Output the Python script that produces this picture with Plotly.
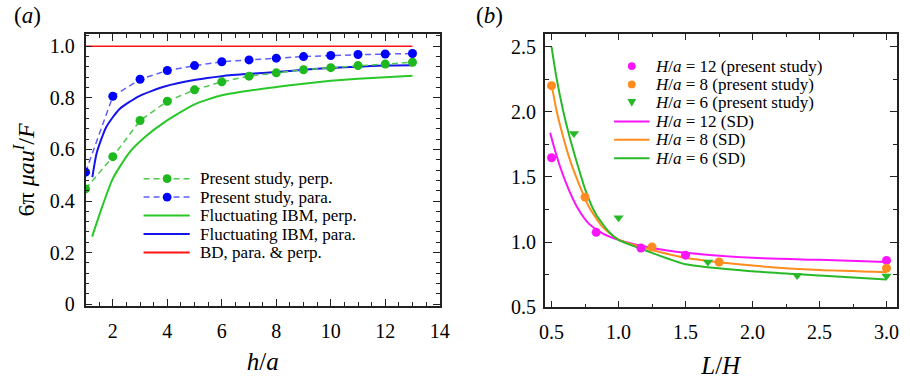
import plotly.graph_objects as go

# ---------------- data: panel (a) ----------------
h_study = [1, 2, 3, 4, 5, 6, 7, 8, 9, 10, 11, 12, 13]
perp_study = [0.447, 0.572, 0.712, 0.787, 0.831, 0.862, 0.884, 0.897, 0.909, 0.917, 0.925, 0.931, 0.938]
para_study = [0.512, 0.806, 0.872, 0.906, 0.925, 0.940, 0.947, 0.954, 0.960, 0.964, 0.968, 0.970, 0.972]

h_ibm_perp = [1.24, 1.64, 2.0, 2.6, 3.2, 3.9, 5.0, 6, 7, 8, 9, 10, 11, 12, 13]
ibm_perp = [0.262, 0.387, 0.487, 0.587, 0.650, 0.706, 0.775, 0.810, 0.828, 0.842, 0.855, 0.866, 0.874, 0.880, 0.886]
h_ibm_para = [1.25, 1.41, 1.76, 2.24, 2.95, 3.9, 5.04, 6, 7, 8, 9, 10, 11, 12, 13]
ibm_para = [0.493, 0.587, 0.687, 0.756, 0.806, 0.844, 0.870, 0.884, 0.893, 0.900, 0.909, 0.916, 0.921, 0.925, 0.926]
h_bd = [1, 13]
bd = [1.0, 1.0]

# ---------------- data: panel (b) ----------------
lh_12 = [0.5, 0.833, 1.167, 1.5, 3.0]
val_12 = [1.647, 1.075, 0.955, 0.900, 0.860]
lh_8 = [0.5, 0.75, 1.25, 1.75, 3.0]
val_8 = [2.200, 1.345, 0.963, 0.848, 0.800]
lh_6 = [0.667, 1.0, 1.667, 2.333, 3.0]
val_6 = [1.834, 1.187, 0.848, 0.744, 0.740]

sd12_x = [0.49, 0.51, 0.56, 0.634, 0.707, 0.78, 0.88, 1.0, 1.25, 1.5, 2.0, 2.5, 3.0]
sd12_y = [1.838, 1.76, 1.59, 1.39, 1.24, 1.14, 1.067, 1.017, 0.955, 0.918, 0.880, 0.864, 0.848]
sd8_x = [0.5, 0.537, 0.586, 0.634, 0.707, 0.78, 0.88, 1.0, 1.25, 1.5, 2.0, 2.5, 3.0]
sd8_y = [2.21, 2.01, 1.81, 1.64, 1.44, 1.27, 1.117, 1.02, 0.940, 0.880, 0.820, 0.786, 0.770]
sd6_x = [0.5, 0.537, 0.586, 0.634, 0.695, 0.756, 0.83, 0.927, 1.0, 1.25, 1.5, 2.0, 2.5, 3.0]
sd6_y = [2.498, 2.26, 2.01, 1.81, 1.59, 1.39, 1.216, 1.08, 1.017, 0.918, 0.830, 0.776, 0.744, 0.714]

ya_tickvals = [0, 0.2, 0.4, 0.6, 0.8, 1.0]
ya_ticktext = ["0", "0.2", "0.4", "0.6", "0.8", "1.0"]
xa_tickvals = [2, 4, 6, 8, 10, 12, 14]

legend_a = ["Present study, perp.", "Present study, para.", "Fluctuating IBM, perp.",
            "Fluctuating IBM, para.", "BD, para. &amp; perp."]
legend_b = ["<i>H</i>/<i>a</i> = 12 (present study)", "<i>H</i>/<i>a</i> = 8 (present study)",
            "<i>H</i>/<i>a</i> = 6 (present study)", "<i>H</i>/<i>a</i> = 12 (SD)",
            "<i>H</i>/<i>a</i> = 8 (SD)", "<i>H</i>/<i>a</i> = 6 (SD)"]

# ---------------- styles ----------------
FONT = "Liberation Serif"
G_MK = "rgb(30,185,30)"
G_DASH = "rgb(80,200,80)"
G_SOLID = "rgb(40,200,40)"
B_MK = "rgb(0,0,255)"
B_DASH = "rgb(95,95,250)"
B_SOLID = "rgb(20,20,235)"
RED = "rgb(255,20,20)"
MAG = "rgb(250,20,250)"
ORA = "rgb(255,140,30)"
GRN = "rgb(40,185,40)"

W, H = 910, 380


def px(x):
    return x / W


def py(y):
    return 1 - y / H


fig = go.Figure()

# panel (a)
fig.add_trace(go.Scatter(x=h_bd, y=bd, mode="lines", line=dict(color=RED, width=1.6),
                         name="BD, para. & perp.", xaxis="x", yaxis="y"))
fig.add_trace(go.Scatter(x=h_ibm_perp, y=ibm_perp, mode="lines", line=dict(color=G_SOLID, width=2, shape="spline", smoothing=0.6),
                         name="Fluctuating IBM, perp.", xaxis="x", yaxis="y"))
fig.add_trace(go.Scatter(x=h_ibm_para, y=ibm_para, mode="lines", line=dict(color=B_SOLID, width=2, shape="spline", smoothing=0.6),
                         name="Fluctuating IBM, para.", xaxis="x", yaxis="y"))
fig.add_trace(go.Scatter(x=h_study, y=perp_study, mode="lines+markers",
                         line=dict(color=G_DASH, width=1.5, dash="6px,4px"),
                         marker=dict(color=G_MK, size=9),
                         name="Present study, perp.", xaxis="x", yaxis="y"))
fig.add_trace(go.Scatter(x=h_study, y=para_study, mode="lines+markers",
                         line=dict(color=B_DASH, width=1.5, dash="6px,4px"),
                         marker=dict(color=B_MK, size=9),
                         name="Present study, para.", xaxis="x", yaxis="y"))

# panel (b)
for xs, ys, c, nm in [(sd12_x, sd12_y, MAG, "H/a = 12 (SD)"),
                      (sd8_x, sd8_y, ORA, "H/a = 8 (SD)"),
                      (sd6_x, sd6_y, GRN, "H/a = 6 (SD)")]:
    fig.add_trace(go.Scatter(x=xs, y=ys, mode="lines", line=dict(color=c, width=2, shape="spline", smoothing=0.6),
                             name=nm, xaxis="x2", yaxis="y2"))
fig.add_trace(go.Scatter(x=lh_12, y=val_12, mode="markers", marker=dict(color=MAG, size=9),
                         name="H/a = 12 (present study)", xaxis="x2", yaxis="y2"))
fig.add_trace(go.Scatter(x=lh_8, y=val_8, mode="markers", marker=dict(color=ORA, size=9),
                         name="H/a = 8 (present study)", xaxis="x2", yaxis="y2"))
fig.add_trace(go.Scatter(x=lh_6, y=val_6, mode="markers", marker=dict(color=GRN, size=9, symbol="triangle-down"),
                         name="H/a = 6 (present study)", xaxis="x2", yaxis="y2"))

axis_common = dict(showline=True, linecolor="#222", linewidth=1.6, mirror="ticks",
                   ticks="inside", ticklen=7, tickwidth=1.3, tickcolor="#222",
                   showgrid=False, zeroline=False,
                   tickfont=dict(family=FONT, size=20, color="black"))

fig.update_layout(
    width=W, height=H, margin=dict(l=0, r=0, t=0, b=0),
    paper_bgcolor="white", plot_bgcolor="white", showlegend=False,
    font=dict(family=FONT, color="black"),
    xaxis=dict(domain=[px(81), px(441.5)], range=[1, 14], tickvals=xa_tickvals,
               minor=dict(ticks="inside", ticklen=4, dtick=0.5, tick0=0, tickcolor="#222", tickwidth=1),
               title=dict(text="<i>h</i>/<i>a</i>", font=dict(family=FONT, size=25), standoff=12),
               ticklabelstandoff=6,
               anchor="y", **axis_common),
    yaxis=dict(domain=[py(315), py(35)], range=[-0.0064, 1.0476], tickvals=ya_tickvals, ticktext=ya_ticktext,
               minor=dict(ticks="inside", ticklen=4, dtick=0.04, tick0=0, tickcolor="#222", tickwidth=1),
               title=dict(text="6π <i>μau</i><sup><i>I</i></sup>/<i>F</i>", font=dict(family=FONT, size=24), standoff=8),
               ticklabelstandoff=5,
               anchor="x", **axis_common),
    xaxis2=dict(domain=[px(548.5), px(906.5)], range=[0.45, 3.075], dtick=0.5, tick0=0.5, tickformat=".1f",
                minor=dict(ticks="inside", ticklen=4, dtick=0.25, tick0=0.5, tickcolor="#222", tickwidth=1),
                title=dict(text="<i>L</i>/<i>H</i>", font=dict(family=FONT, size=25), standoff=14),
                ticklabelstandoff=6,
                anchor="y2", **axis_common),
    yaxis2=dict(domain=[py(316.5), py(34.5)], range=[0.5, 2.6], dtick=0.5, tick0=0.5, tickformat=".1f",
                minor=dict(ticks="inside", ticklen=4, dtick=0.25, tick0=0.5, tickcolor="#222", tickwidth=1),
                ticklabelstandoff=3,
                anchor="x2", **axis_common),
)

annotations = [
    dict(text="(<i>a</i>)", x=px(6), y=py(16), xref="paper", yref="paper", xanchor="left", yanchor="middle",
         showarrow=False, font=dict(family=FONT, size=23)),
    dict(text="(<i>b</i>)", x=px(476), y=py(16), xref="paper", yref="paper", xanchor="left", yanchor="middle",
         showarrow=False, font=dict(family=FONT, size=23)),
]
shapes = []

# legend (a), drawn by hand for tight spacing
rows_a = [184, 203, 222, 241, 260]
styles_a = [(G_DASH, "dash", G_MK), (B_DASH, "dash", B_MK), (G_SOLID, "solid", None),
            (B_SOLID, "solid", None), (RED, "solid", None)]
for yy, (col, dsh, mk), txt in zip(rows_a, styles_a, legend_a):
    shapes.append(dict(type="line", xref="paper", yref="paper", x0=px(140), x1=px(187), y0=py(yy), y1=py(yy),
                       line=dict(color=col, width=2 if dsh == "solid" else 1.5, dash="6px,4px" if dsh == "dash" else "solid")))
    if mk:
        shapes.append(dict(type="circle", xref="paper", yref="paper", x0=px(159.5), x1=px(168.5),
                           y0=py(yy + 4.5), y1=py(yy - 4.5), fillcolor=mk, line=dict(width=0)))
    annotations.append(dict(text=txt, x=px(195), y=py(yy), xref="paper", yref="paper", xanchor="left",
                            yanchor="middle", showarrow=False, font=dict(family=FONT, size=17)))

# legend (b)
rows_b = [68, 87, 106, 125, 144, 163]
styles_b = [(MAG, "circle"), (ORA, "circle"), (GRN, "tri"), (MAG, "line"), (ORA, "line"), (GRN, "line")]
for yy, (col, kind), txt in zip(rows_b, styles_b, legend_b):
    if kind == "circle":
        shapes.append(dict(type="circle", xref="paper", yref="paper", x0=px(633), x1=px(641),
                           y0=py(yy + 4), y1=py(yy - 4), fillcolor=col, line=dict(width=0)))
    elif kind == "tri":
        path = "M {:.5f},{:.5f} L {:.5f},{:.5f} L {:.5f},{:.5f} Z".format(
            px(632.5), py(yy - 4), px(641.5), py(yy - 4), px(637), py(yy + 4))
        shapes.append(dict(type="path", xref="paper", yref="paper", path=path, fillcolor=col, line=dict(width=0)))
    else:
        shapes.append(dict(type="line", xref="paper", yref="paper", x0=px(619), x1=px(655), y0=py(yy), y1=py(yy),
                           line=dict(color=col, width=2)))
    annotations.append(dict(text=txt, x=px(659), y=py(yy), xref="paper", yref="paper", xanchor="left",
                            yanchor="middle", showarrow=False, font=dict(family=FONT, size=17)))

fig.update_layout(annotations=annotations, shapes=shapes)
fig.write_html("out.html", config={"displayModeBar": False},
               post_script="document.body.style.margin='0px';document.body.style.overflow='hidden';")
